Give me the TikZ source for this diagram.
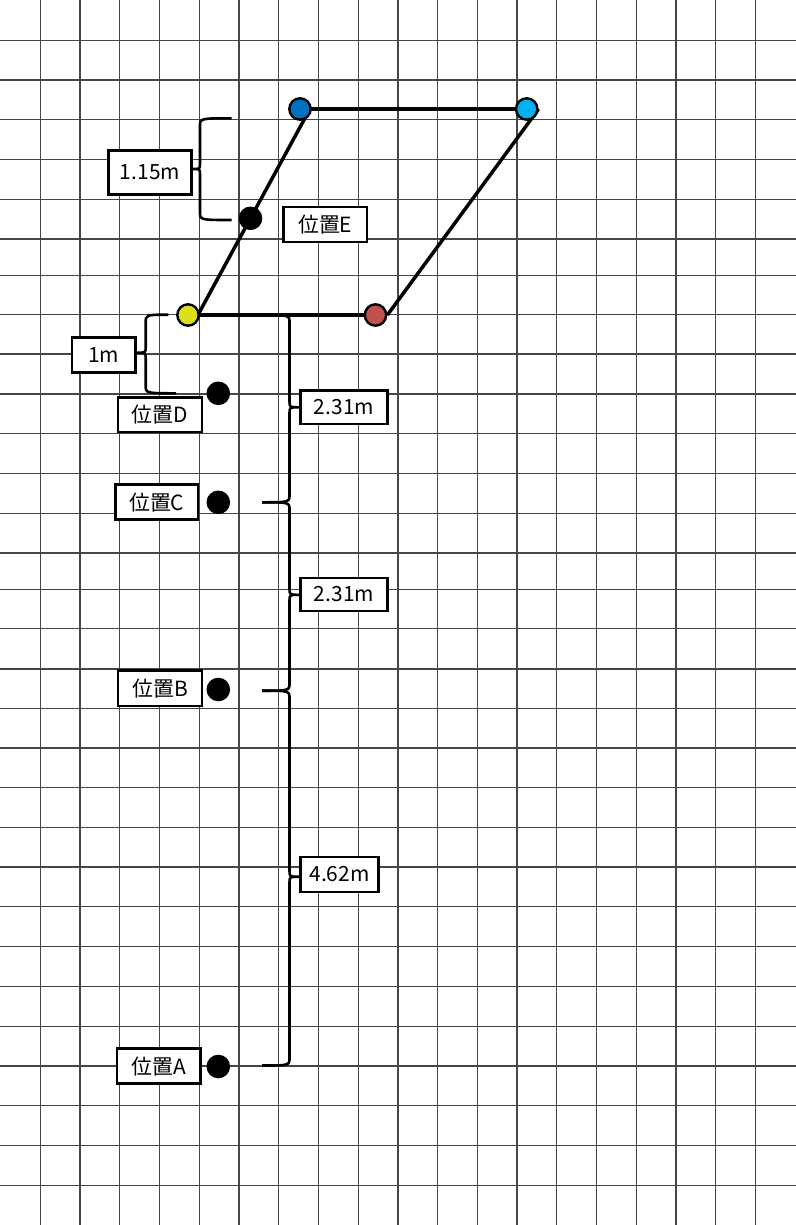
\documentclass[tikz,border=0pt]{standalone}
\usepackage{fontspec}
\newfontfamily\jp{Noto Sans CJK JP}
\usetikzlibrary{backgrounds}
\definecolor{cBlue}{RGB}{0,112,192}
\definecolor{cLightBlue}{RGB}{0,176,240}
\definecolor{cYellow}{RGB}{218,224,30}
\definecolor{cRed}{RGB}{192,80,77}
\definecolor{cGrid}{RGB}{70,70,70}
\tikzset{
  gridline/.style={draw=cGrid, line width=1.2bp},
  vtx/.style={circle, draw=black, line width=2.4bp, minimum size=21.4bp, inner sep=0pt},
  blackdot/.style={circle, fill=black, minimum size=23.6bp, inner sep=0pt},
  lbl/.style={draw=black, line width=2.6bp, fill=white, inner sep=0pt,
    font=\jp\fontsize{21}{25}\selectfont, minimum height=35bp},
  edgeline/.style={draw=black, line width=3.5bp},
  bracelin/.style={draw=black, line width=2.6bp, line join=round}
}
% #1 end x (top), #2 spine x, #3 tip x, #4 top y, #5 tip y, #6 bottom y, #7 corner, #8 end x (bottom)
\newcommand{\dimbrace}[8]{%
  \draw[bracelin] (#1,#4) .. controls (#2,#4) .. (#2,#4+#7) -- (#2,#5-6)
    .. controls (#2,#5) .. (#3,#5) .. controls (#2,#5) .. (#2,#5+6)
    -- (#2,#6-#7) .. controls (#2,#6) .. (#8,#6);}
\begin{document}
\begin{tikzpicture}[x=1bp,y=-1bp]
\useasboundingbox (0,0) rectangle (796,1225);
\begin{scope}[on background layer]
  \fill[white] (0,0) rectangle (796,1225);
  \foreach \gx in {40.3,80,119.7,159.3,199.3,239,278.7,318.7,358.3,398,437.3,477.3,517,556.7,596.3,636.3,676,715.7,755.3}
    \draw[gridline] (\gx,0) -- (\gx,1225);
  \foreach \gy in {40.3,80,119.5,159.3,199.3,239,275.5,314.5,354,394,433.7,473.3,513.3,553,589.3,628.8,669,708.3,748,787.7,827.3,867,906.7,946.5,986.7,1026.3,1066,1105.7,1145.7,1185.3}
    \draw[gridline] (0,\gy) -- (796,\gy);
\end{scope}

% vertices of the quadrilateral
\node[vtx, fill=cBlue] (bl) at (300,109) {};
\node[vtx, fill=cLightBlue] (lb) at (526.7,109) {};
\node[vtx, fill=cYellow] (yl) at (188,315) {};
\node[vtx, fill=cRed] (rd) at (375.5,315) {};

\begin{scope}[on background layer]
  \draw[edgeline] (bl.center) -- (lb.center);
  \draw[edgeline] (yl.center) -- (rd.center);
  \draw[edgeline] ([xshift=-2bp]yl.east) -- ([xshift=-2bp]bl.east);
  \draw[edgeline] (rd.east) -- (lb.east);
\end{scope}

% positions
\node[blackdot] (pE) at (250.5,218.3) {};
\node[blackdot] (pD) at (218.3,393.3) {};
\node[blackdot] (pC) at (218.3,502.3) {};
\node[blackdot] (pB) at (218.3,689.5) {};
\node[blackdot] (pA) at (218.3,1066.5) {};

% braces
\dimbrace{231.7}{200}{193.3}{118.3}{169}{220}{8}{231.7}
\dimbrace{168.3}{145.7}{137.3}{314.7}{352.7}{393.3}{8}{176}
\dimbrace{262}{289.5}{299}{315}{407.3}{502.3}{8}{262}
\dimbrace{262}{289.5}{299}{502.3}{594.8}{690.7}{8}{262}
\dimbrace{262}{289.5}{299}{690.7}{876.7}{1065.5}{8}{262}

% labels
\node[lbl, minimum width=82.8bp, minimum height=44.4bp] (t115) at (150,172.5) {1.15m};
\node[lbl, minimum width=83.7bp] (tE) at (325.2,224.5) {位置E};
\node[lbl, minimum width=63.4bp, minimum height=35.4bp] (t1) at (103.7,355) {1m};
\node[lbl, minimum width=84bp, minimum height=34.7bp] (tD) at (160,414.7) {位置D};
\node[lbl, minimum width=82.7bp] (tC) at (156.7,502.2) {位置C};
\node[lbl, minimum width=87.4bp, minimum height=33.7bp] (t231a) at (344,407.2) {2.31m};
\node[lbl, minimum width=87.4bp, minimum height=33bp] (t231b) at (344,594.5) {2.31m};
\node[lbl, minimum width=78.4bp] (t462) at (339.5,874.5) {4.62m};
\node[lbl, minimum width=84bp, minimum height=35.7bp] (tB) at (160,688.2) {位置B};
\node[lbl, minimum width=83.4bp] (tA) at (158.7,1066.2) {位置A};
\end{tikzpicture}
\end{document}
